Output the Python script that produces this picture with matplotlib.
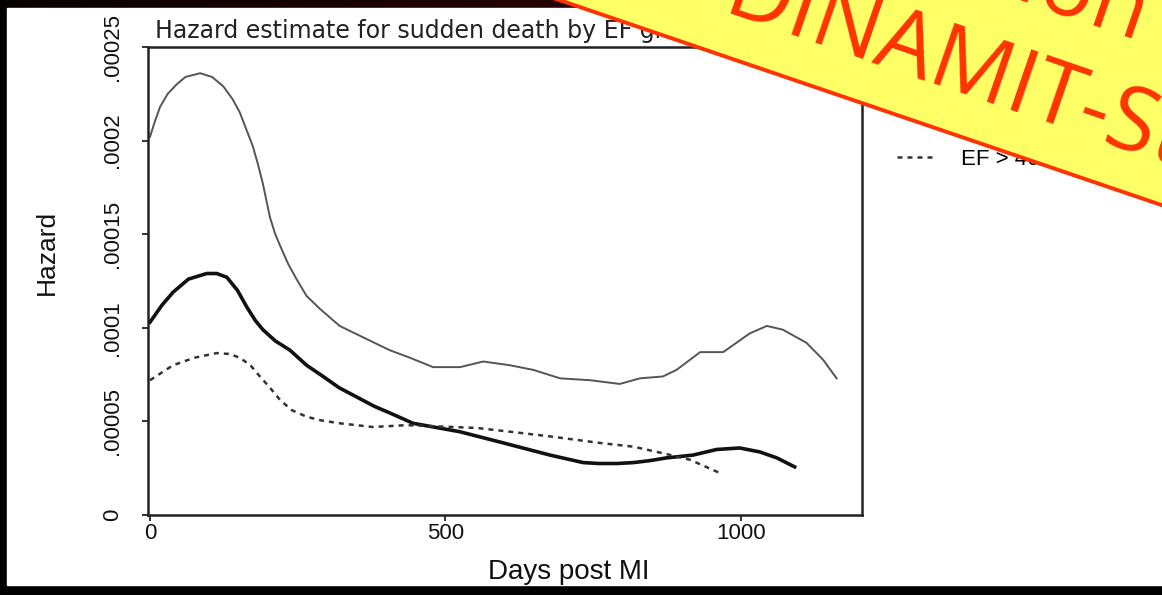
import numpy as np
import matplotlib.pyplot as plt
from matplotlib.patches import Polygon, Rectangle

# Hazard-Kurven, Werte in Einheiten von 1e-5
tage_ef30 = [0, 8, 17, 30, 45, 60, 85, 105, 124, 140, 152, 163, 174, 183, 191, 203,
             212, 220, 234, 248, 265, 288, 321, 360, 406, 440, 479, 525, 564, 609,
             649, 694, 745, 795, 829, 868, 891, 931, 970, 1015, 1044, 1071, 1111,
             1139, 1162]
hazard_ef30 = [20.2, 21.0, 21.8, 22.5, 23.0, 23.4, 23.6, 23.4, 22.9, 22.2, 21.5, 20.6,
               19.7, 18.7, 17.7, 15.9, 15.0, 14.4, 13.4, 12.6, 11.7, 11.0, 10.1, 9.5,
               8.8, 8.4, 7.9, 7.9, 8.2, 8.0, 7.75, 7.3, 7.2, 7.0, 7.3, 7.4, 7.75, 8.7,
               8.7, 9.7, 10.1, 9.9, 9.2, 8.3, 7.3]

tage_ef40 = [0, 20, 39, 65, 96, 113, 130, 148, 164, 178, 191, 212, 237, 265, 293, 320,
             350, 380, 406, 445, 524, 592, 677, 733, 760, 790, 818, 845, 874, 919, 959,
             998, 1032, 1061, 1091]
hazard_ef40 = [10.3, 11.2, 11.9, 12.6, 12.9, 12.9, 12.7, 12.0, 11.1, 10.4, 9.9, 9.3,
               8.8, 8.0, 7.4, 6.8, 6.3, 5.8, 5.45, 4.9, 4.45, 3.9, 3.2, 2.8, 2.75, 2.75,
               2.8, 2.9, 3.05, 3.2, 3.5, 3.58, 3.37, 3.05, 2.57]

tage_ef_hoch = [0, 39, 75, 113, 135, 152, 170, 186, 203, 220, 240, 265, 290, 321, 377,
                434, 553, 609, 677, 761, 818, 868, 914, 964]
hazard_ef_hoch = [7.2, 8.0, 8.4, 8.65, 8.6, 8.4, 8.0, 7.4, 6.8, 6.15, 5.6, 5.25, 5.05,
                  4.9, 4.7, 4.8, 4.65, 4.45, 4.2, 3.85, 3.65, 3.3, 2.95, 2.25]

labels = ["EF ≤ 30%", "EF 31-40%", "EF > 40%"]
xticks = [0, 500, 1000]
yticks = [0, 0.00005, 0.0001, 0.00015, 0.0002, 0.00025]
ytick_labels = ["0", ".00005", ".0001", ".00015", ".0002", ".00025"]

W, H = 1162, 595
fig = plt.figure(figsize=(W / 100, H / 100), dpi=100)
fig.patch.set_facecolor("black")

# Hintergrund: schwarzer Rahmen, dunkelroter Streifen oben, weisse Flaeche
bg = fig.add_axes([0, 0, 1, 1], zorder=-10)
grad = np.linspace(0, 1, 300)
streifen = np.zeros((1, 300, 3))
streifen[0, :, 0] = 0.03 + 0.15 * np.minimum(grad * 1.6, 1)
bg.imshow(streifen, extent=(0, W, 8, 0), aspect="auto")
bg.add_patch(Rectangle((7, 8), W - 7, 577, color="white"))
bg.set_xlim(0, W)
bg.set_ylim(H, 0)
bg.axis("off")

ax = fig.add_axes([148 / W, 1 - 515 / H, (862 - 148) / W, (515 - 47) / H])
ax.plot(tage_ef30, np.array(hazard_ef30) * 1e-5, color="#555555", lw=1.4, label=labels[0])
ax.plot(tage_ef40, np.array(hazard_ef40) * 1e-5, color="#111111", lw=2.6, label=labels[1])
ax.plot(tage_ef_hoch, np.array(hazard_ef_hoch) * 1e-5, color="#333333", lw=1.8,
        ls=(0, (2, 2)), label=labels[2])

ax.set_xlim(-3.4, 1205)
ax.set_ylim(0, 0.00025)
ax.set_xticks(xticks)
ax.set_yticks(yticks)
ax.set_yticklabels(ytick_labels)
for lab in ax.get_yticklabels():
    lab.set_rotation(90)
    lab.set_va("center")
for lab in ax.get_xticklabels() + ax.get_yticklabels():
    lab.set_family("Liberation Sans")
    lab.set_fontsize(16)
    lab.set_color("#111111")
ax.tick_params(axis="both", length=4, width=1.3, color="#222222")
ax.tick_params(axis="y", pad=14)
ax.tick_params(axis="x", pad=2)
for sp in ax.spines.values():
    sp.set_linewidth(1.8)
    sp.set_color("#222222")

fig.text(47 / W, 1 - 252 / H, "Hazard", rotation=90, ha="center", va="center",
         fontsize=19, family="Liberation Sans", color="#111111")
fig.text(569 / W, 1 - 572 / H, "Days post MI", ha="center", va="center",
         fontsize=20, family="Liberation Sans", color="#111111")
fig.text(155 / W, 1 - 38 / H, "Hazard estimate for sudden death by EF group",
         fontsize=17, family="DejaVu Sans", va="baseline", color="#222222")

handles, hlabels = ax.get_legend_handles_labels()
fig.legend(handles, hlabels, loc="lower left", bbox_to_anchor=(897 / W, 1 - 170 / H),
           frameon=False, borderpad=0, borderaxespad=0, handlelength=1.8,
           handletextpad=1.1, labelspacing=1.2,
           prop={"family": ["Liberation Sans", "DejaVu Sans"], "size": 16})

# Banner oben rechts
ov = fig.add_axes([0, 0, 1, 1], zorder=10)
ov.set_xlim(0, W)
ov.set_ylim(H, 0)
ov.axis("off")
th = np.deg2rad(18.8)
u = np.array([np.cos(th), np.sin(th)])
n = np.array([np.sin(th), -np.cos(th)])
p0 = np.array([850, 99])
ecken = [p0 - 900 * u, p0 + 900 * u, p0 + 900 * u + 600 * n, p0 - 900 * u + 600 * n]
ov.add_patch(Polygon(ecken, closed=True, facecolor="#ffff66", edgecolor="#ff3300", lw=2.8))
ov.text(720, 13, "DINAMIT-Studie", rotation=-19, rotation_mode="anchor", ha="left",
        va="baseline", fontsize=65, color="#ff3300", family="Open Sans")
ov.text(1138, 41, "Frühe ICD-Implantation", rotation=-19, rotation_mode="anchor",
        ha="right", va="baseline", fontsize=65, color="#ff3300", family="Open Sans")

fig.savefig("out.png", dpi=100, facecolor=fig.get_facecolor())
